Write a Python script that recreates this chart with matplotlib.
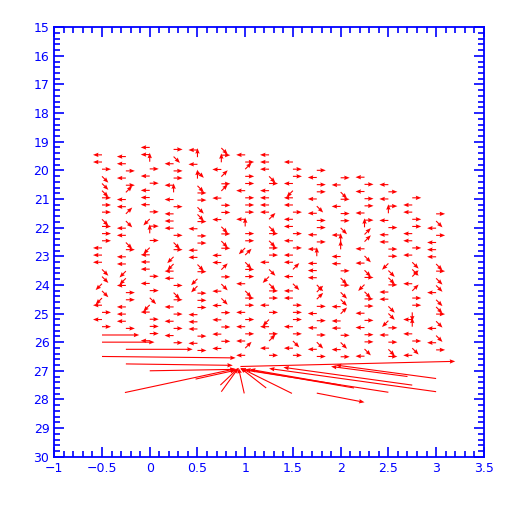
import numpy as np
import matplotlib
matplotlib.use("Agg")
import matplotlib.pyplot as plt

# small station vectors: one column per x, read top to bottom.
# direction codes follow the numeric keypad (6 = right, 8 = up, 4 = left ...)
col_x = [-0.5, -0.25, 0.0, 0.25, 0.5, 0.75, 1.0, 1.25, 1.5, 1.75, 2.0, 2.25, 2.5, 2.75, 3.0]
col_top = [19.46, 19.52, 19.20, 19.27, 19.29, 19.22, 19.46, 19.46, 19.71, 20.00,
           20.26, 20.24, 20.50, 20.96, 21.52]
col_dirs = [
    "4463336663666444331314646",
    "4464694493443644114664446",
    "4486464446168614446463146664",
    "6346648464446361144636464646",
    "48438366336466443611666444646",
    "36849694664363644963434646464",
    "46966466648661936643664646494",
    "44436444493636643136646146946",
    "4664144644646449434466646346",
    "646643466464844439964646346",
    "64364663488446363349446346",
    "46466468994343613664646634",
    "4646846446613364433164636",
    "64466446433949662484634",
    "63464443633433634346",
]
row_step = 0.25

# long vectors near the bottom: tail x, tail y, dx, dy (data units)
long_x = [-0.50, -0.50, -0.25, -0.50, -0.25, 0.00, -0.26, 0.48,
          0.75, 0.99, 0.74, 1.49, 1.22,
          3.00, 3.00, 2.75, 2.50, 2.14, 2.70, 2.00,
          0.95, 1.75]
long_y = [25.75, 26.00, 26.25, 26.50, 26.76, 27.00, 27.76, 27.29,
          27.73, 27.79, 27.50, 27.79, 27.60,
          27.73, 27.27, 27.50, 27.75, 27.60, 27.20, 27.50,
          26.85, 27.78]
long_u = [0.39, 0.55, 0.70, 1.40, 1.12, 0.90, 1.16, 0.42,
          0.18, -0.06, 0.19, -0.54, -0.27,
          -1.75, -1.05, -1.35, -1.55, -1.14, -0.80, -0.95,
          2.25, 0.50]
long_v = [0.00, 0.00, 0.00, 0.05, 0.05, -0.05, -0.83, -0.31,
          -0.83, -0.89, -0.60, -0.89, -0.70,
          -0.81, -0.47, -0.62, -0.80, -0.65, -0.35, -0.55,
          -0.18, 0.32]

xticks = [-1, -0.5, 0, 0.5, 1, 1.5, 2, 2.5, 3, 3.5]
xlabels = ["\u22121", "\u22120.5", "0", "0.5", "1", "1.5", "2", "2.5", "3", "3.5"]
yticks = list(range(15, 31))

fig = plt.figure(figsize=(5.12, 5.12), dpi=100)
ax = fig.add_axes([0.106, 0.108, 0.839, 0.839])
ax.set_xlim(-1, 3.5)
ax.set_ylim(30, 15)

# pixel scale of the axes, used to give the small vectors a fixed screen length
px_x = 0.839 * 512 / 4.5
px_y = 0.839 * 512 / 15.0
seg = 9.0
ang = {"6": 0, "9": 45, "8": 90, "7": 135, "4": 180, "1": 225, "2": 270, "3": 315}

sx, sy, su, sv = [], [], [], []
for x, top, dirs in zip(col_x, col_top, col_dirs):
    for i, c in enumerate(dirs):
        a = np.radians(ang[c])
        sx.append(x)
        sy.append(top + i * row_step)
        su.append(seg * np.cos(a) / px_x)
        sv.append(-seg * np.sin(a) / px_y)

qkw = dict(angles="xy", scale_units="xy", scale=1, units="dots", width=1.1,
           headwidth=4, headlength=5, headaxislength=4.5, color="red")
ax.quiver(sx, sy, su, sv, **qkw)
ax.quiver(long_x, long_y, long_u, long_v, **qkw)

blue = "blue"
for s in ax.spines.values():
    s.set_color(blue)
    s.set_linewidth(1.3)
ax.set_xticks(xticks)
ax.set_xticklabels(xlabels)
ax.set_yticks(yticks)
ax.set_xticks(np.arange(-1, 3.51, 0.1), minor=True)
ax.set_yticks(np.arange(15, 30.01, 0.2), minor=True)
ax.tick_params(which="both", direction="in", top=True, right=True, colors=blue,
               labelcolor=blue, labelsize=9, width=1.2)
ax.tick_params(which="major", length=7)
ax.tick_params(which="minor", length=4)

fig.savefig("out.png", dpi=100)
